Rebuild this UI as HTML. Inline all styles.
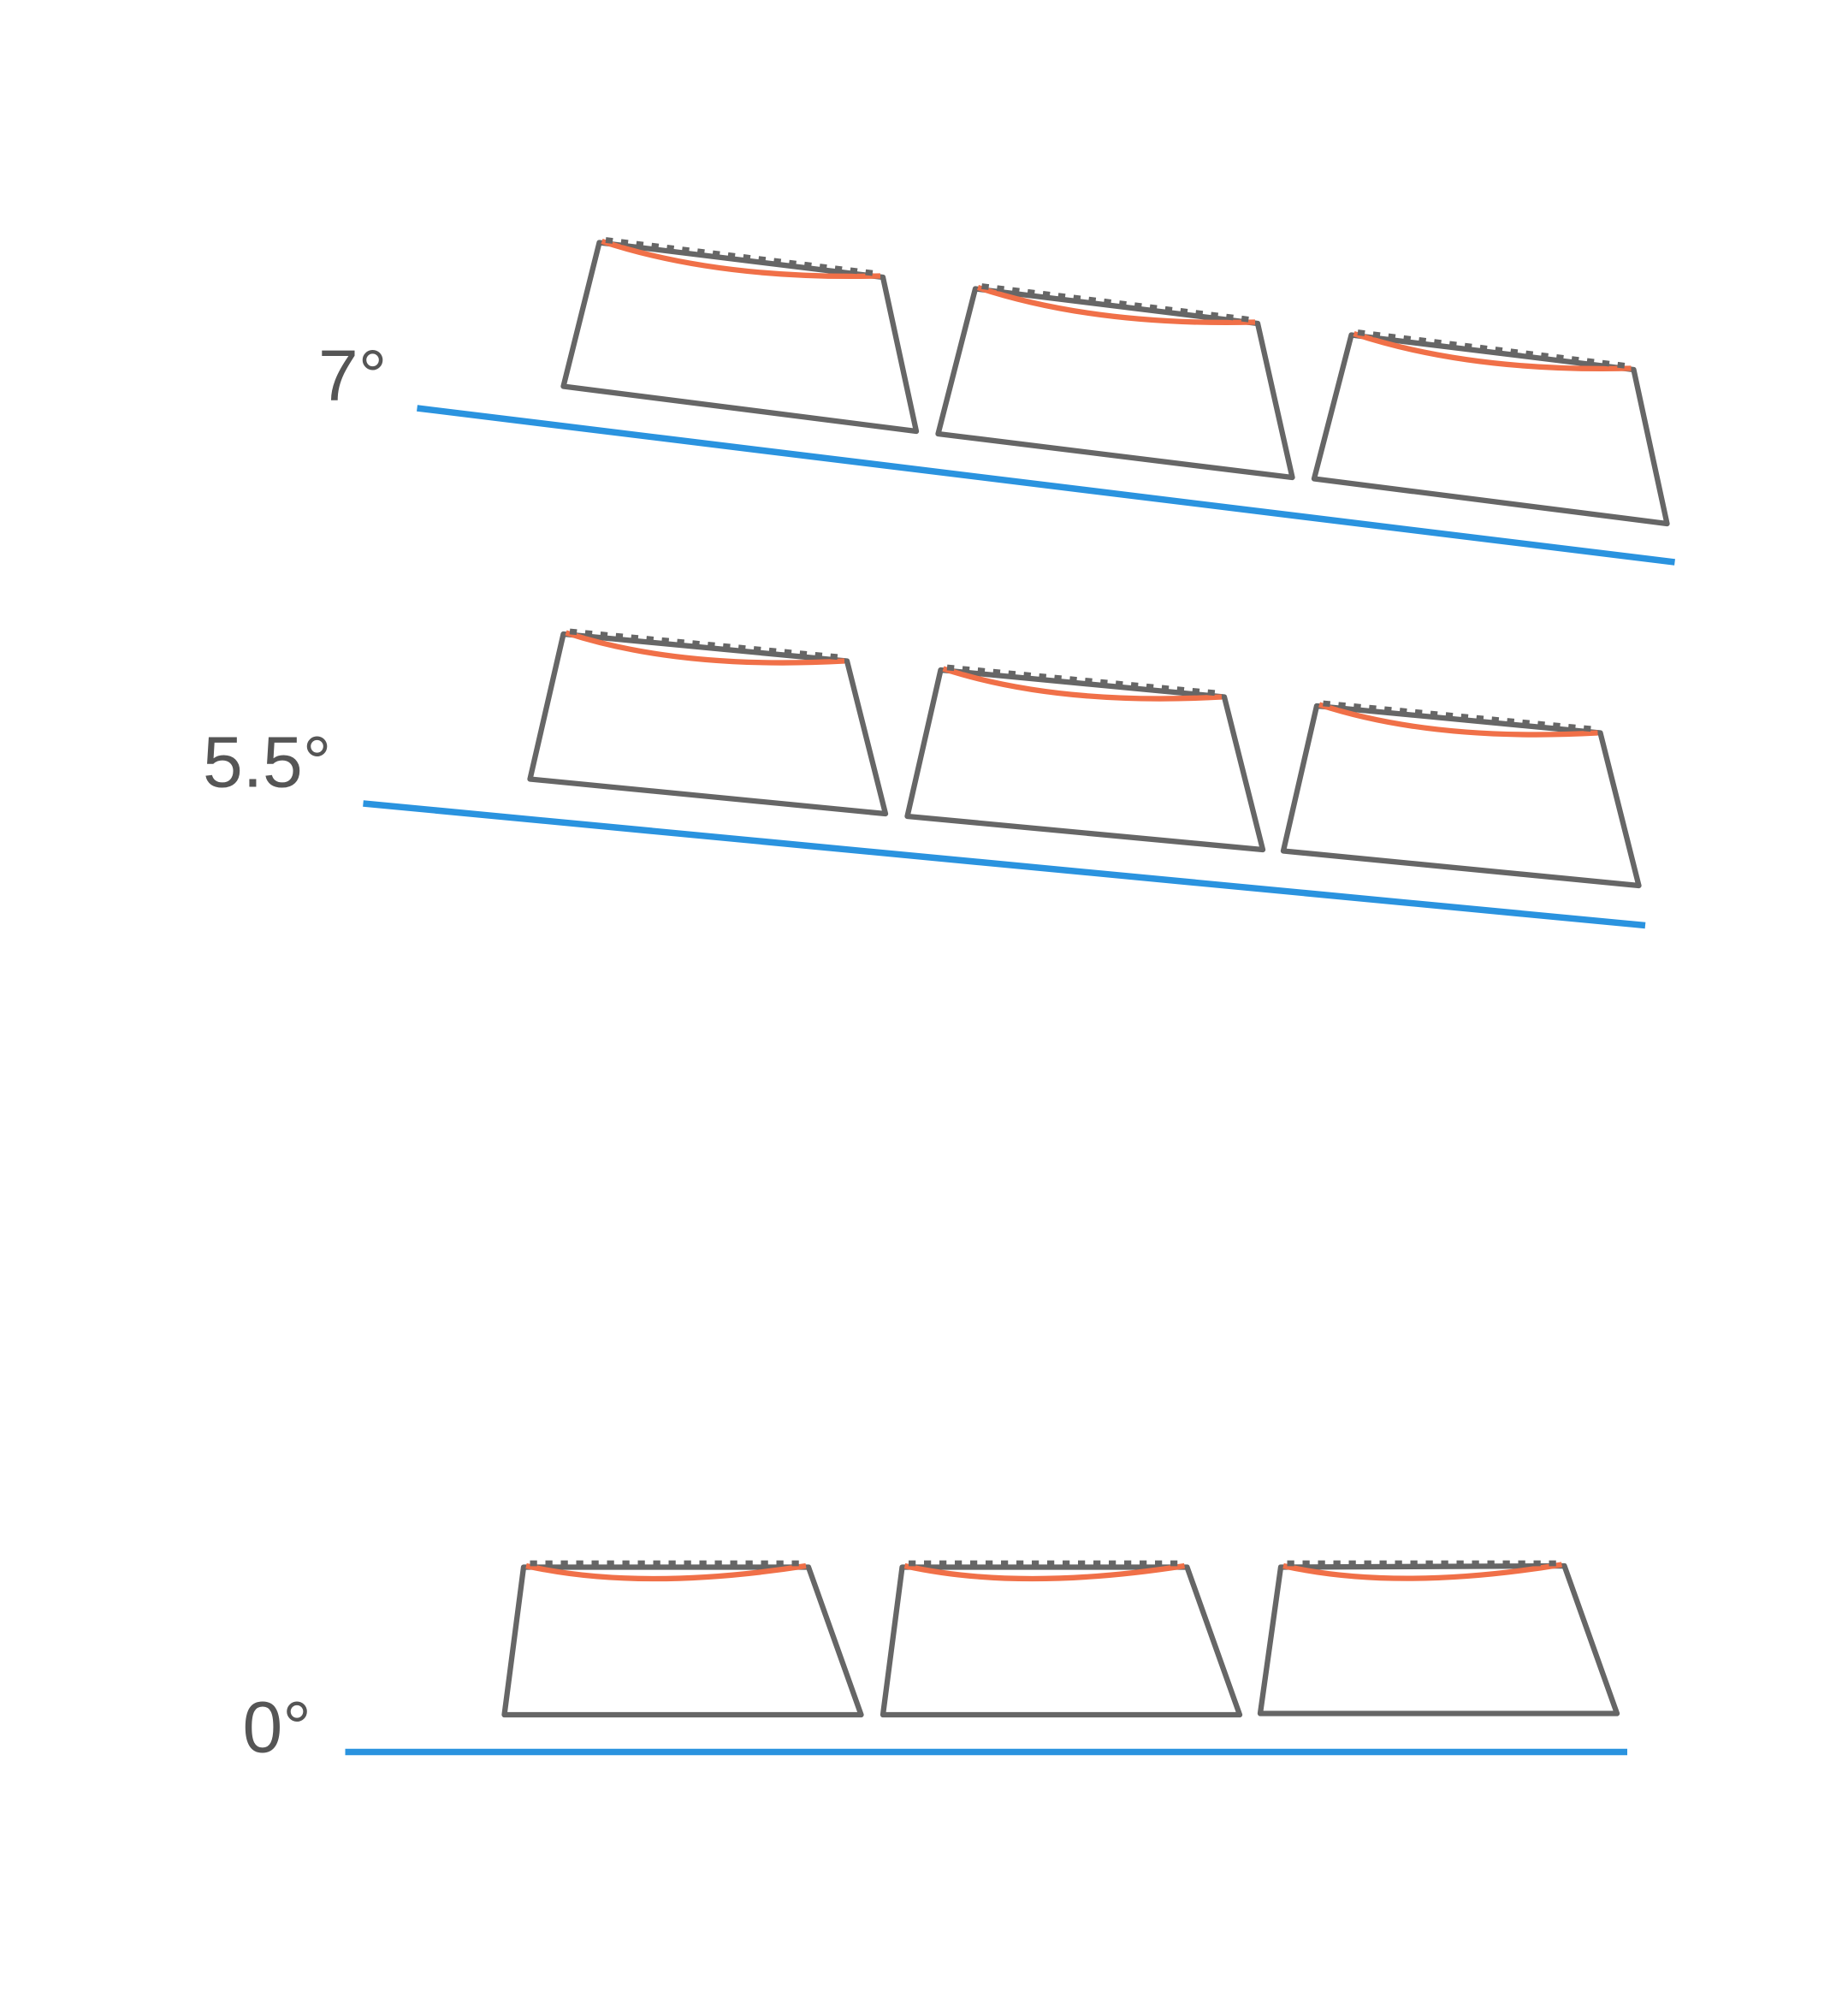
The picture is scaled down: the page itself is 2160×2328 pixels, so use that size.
<!DOCTYPE html>
<html><head><style>html,body{margin:0;padding:0;background:#fff}svg{display:block}</style></head>
<body>
<svg width="2160" height="2328" viewBox="0 0 1440 1552" xmlns="http://www.w3.org/2000/svg">
<g fill="none" stroke-linejoin="round" stroke-linecap="round">
<g stroke="#666" stroke-width="4.2">
<path d="M467,189 L688,216 L714,336 L439,301 Z"/>
<path d="M760,225 L980,252 L1007,372 L731,338 Z"/>
<path d="M1053,261 L1273,288 L1299,408 L1024,373 Z"/>
<path d="M439,494 L660,515 L690,634 L413,607 Z"/>
<path d="M733,522 L954,543 L984,662 L707,636 Z"/>
<path d="M1026,550 L1247,571 L1277,690 L1000,663 Z"/>
<path d="M408,1221 L630,1221 L671,1336 L393,1336 Z"/>
<path d="M703,1221 L925,1221 L966,1336 L688,1336 Z"/>
<path d="M998,1221 L1219,1220 L1260,1335 L982,1335 Z"/>
</g>
<g stroke="#F07048" stroke-width="4.2" stroke-linecap="butt">
<path d="M469,188 Q560,218 686,215"/>
<path d="M762,224 Q853,254 978,251"/>
<path d="M1055,260 Q1146,290 1271,287"/>
<path d="M441,493 Q530,522 658,515"/>
<path d="M735,521 Q824,550 952,543"/>
<path d="M1028,549 Q1117,578 1245,571"/>
<path d="M410,1220 Q500,1240 628,1220"/>
<path d="M705,1220 Q795,1240 923,1220"/>
<path d="M1000,1220 Q1090,1240 1217,1219"/>
</g>
<g stroke="#666" stroke-width="4.5" stroke-dasharray="5.5 6.5" stroke-linecap="butt">
<path d="M472,187 L682,213"/>
<path d="M765,223 L974,249"/>
<path d="M1058,259 L1267,285"/>
<path d="M444,492 L654,512"/>
<path d="M738,520 L948,540"/>
<path d="M1031,548 L1241,568"/>
<path d="M413,1218 L626,1218"/>
<path d="M708,1218 L921,1218"/>
<path d="M1003,1218 L1215,1218"/>
</g>
<g stroke="#2A93DF" stroke-width="5" stroke-linecap="butt">
<path d="M325,318 L1305,438"/>
<path d="M283,626 L1282,721"/>
<path d="M269,1365 L1268,1365"/>
</g>
</g>
<g fill="#555" font-family="Liberation Sans, sans-serif" font-size="56">
<text x="248" y="312">7°</text>
<text x="158" y="613">5.5°</text>
<text x="189" y="1365">0°</text>
</g>
</svg>
</body></html>
